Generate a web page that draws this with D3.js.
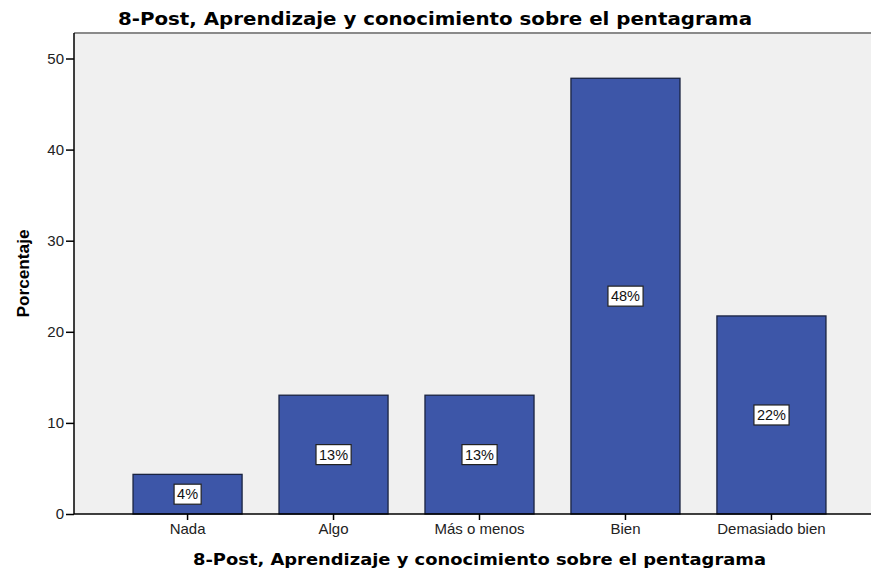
<!DOCTYPE html>
<html>
<head>
<meta charset="utf-8">
<script src="https://cdn.jsdelivr.net/npm/d3@7"></script>
<style>
  body { margin: 0; background: #fff; }
  text { font-family: "Liberation Sans", Arial, sans-serif; }
</style>
</head>
<body>
<div id="chart"></div>
<script>
var categories = ['Nada', 'Algo', 'Más o menos', 'Bien', 'Demasiado bien'];
var percentages = [4.35, 13.04, 13.04, 47.83, 21.74];
var bar_labels = ['4%', '13%', '13%', '48%', '22%'];
var y_ticks = [0, 10, 20, 30, 40, 50];
var chart_title = '8-Post, Aprendizaje y conocimiento sobre el pentagrama';
var x_title = '8-Post, Aprendizaje y conocimiento sobre el pentagrama';
var y_title = 'Porcentaje';

function draw_chart() {
    var width = 871, height = 569;
    var plot = {left: 74, top: 33, right: 871, bottom: 514};
    var tick_font = '"Liberation Sans", Arial, sans-serif';
    var title_font = '"DejaVu Sans", Verdana, sans-serif';

    var svg = d3.select('#chart')
        .append('svg')
        .attr('width', width)
        .attr('height', height);

    // plot background
    svg.append('rect')
        .attr('x', plot.left)
        .attr('y', plot.top)
        .attr('width', plot.right - plot.left)
        .attr('height', plot.bottom - plot.top)
        .attr('fill', '#f0f0f0');

    svg.append('line')
        .attr('x1', plot.left).attr('x2', plot.right)
        .attr('y1', plot.top).attr('y2', plot.top)
        .attr('stroke', '#8a8a8a')
        .attr('stroke-width', 2);

    var y = d3.scaleLinear()
        .domain([0, 50])
        .range([plot.bottom, 58.5]);

    var x = d3.scaleBand()
        .domain(categories)
        .range([114.5, 844.5])
        .paddingInner(0.253)
        .paddingOuter(0.127);

    // bars
    svg.append('g').selectAll('rect')
        .data(categories)
        .enter()
        .append('rect')
        .attr('x', d => x(d))
        .attr('y', (d, i) => y(percentages[i]))
        .attr('width', x.bandwidth())
        .attr('height', (d, i) => y(0) - y(percentages[i]))
        .attr('fill', '#3d56a8')
        .attr('stroke', '#1a2340')
        .attr('stroke-width', 1.3);

    // value labels, boxed, halfway up each bar
    var labels = svg.append('g');
    categories.forEach(function(c, i) {
        var cx = x(c) + x.bandwidth() / 2;
        var cy = (y(percentages[i]) + y(0)) / 2;
        var g = labels.append('g');
        var t = g.append('text')
            .attr('x', cx)
            .attr('y', cy + 5)
            .attr('text-anchor', 'middle')
            .style('font-size', '14.5px')
            .attr('fill', '#111')
            .text(bar_labels[i]);
        var bb = t.node().getBBox();
        g.insert('rect', 'text')
            .attr('x', bb.x - 3)
            .attr('y', cy - 10)
            .attr('width', bb.width + 6)
            .attr('height', 20)
            .attr('fill', '#fff')
            .attr('stroke', '#222')
            .attr('stroke-width', 1.2);
    });

    // y axis
    var y_axis = svg.append('g')
        .attr('transform', `translate(${plot.left},0)`)
        .call(d3.axisLeft(y).tickValues(y_ticks).tickSize(8).tickSizeOuter(0));
    y_axis.select('.domain')
        .attr('d', `M0,${plot.top}V${plot.bottom}`)
        .attr('stroke', '#000')
        .attr('stroke-width', 1.5);
    y_axis.selectAll('.tick line').attr('stroke', '#000').attr('stroke-width', 1.5);
    y_axis.selectAll('.tick text')
        .attr('x', -10)
        .style('font-size', '15px')
        .style('font-family', tick_font)
        .attr('fill', '#222');

    // x axis
    var x_axis = svg.append('g')
        .attr('transform', `translate(0,${plot.bottom})`)
        .call(d3.axisBottom(x).tickSize(6).tickSizeOuter(0));
    x_axis.select('.domain')
        .attr('d', `M${plot.left},0H${plot.right}`)
        .attr('stroke', '#000')
        .attr('stroke-width', 1.5);
    x_axis.selectAll('.tick line').attr('stroke', '#000').attr('stroke-width', 1.5);
    x_axis.selectAll('.tick text')
        .attr('y', 9)
        .style('font-size', '15px')
        .style('font-family', tick_font)
        .attr('fill', '#222');

    // titles
    svg.append('text')
        .attr('x', 435)
        .attr('y', 25)
        .attr('text-anchor', 'middle')
        .style('font-family', title_font)
        .style('font-size', '17px')
        .style('font-weight', 700)
        .attr('textLength', 634)
        .attr('lengthAdjust', 'spacingAndGlyphs')
        .text(chart_title);

    svg.append('text')
        .attr('x', 479.5)
        .attr('y', 565)
        .attr('text-anchor', 'middle')
        .style('font-family', title_font)
        .style('font-size', '16px')
        .style('font-weight', 700)
        .attr('textLength', 573)
        .attr('lengthAdjust', 'spacingAndGlyphs')
        .text(x_title);

    svg.append('text')
        .attr('transform', `translate(29, ${(plot.top + plot.bottom) / 2}) rotate(-90)`)
        .attr('text-anchor', 'middle')
        .style('font-size', '17px')
        .style('font-weight', 700)
        .attr('textLength', 88)
        .attr('lengthAdjust', 'spacingAndGlyphs')
        .text(y_title);
}

document.addEventListener('DOMContentLoaded', draw_chart);
</script>
</body>
</html>
